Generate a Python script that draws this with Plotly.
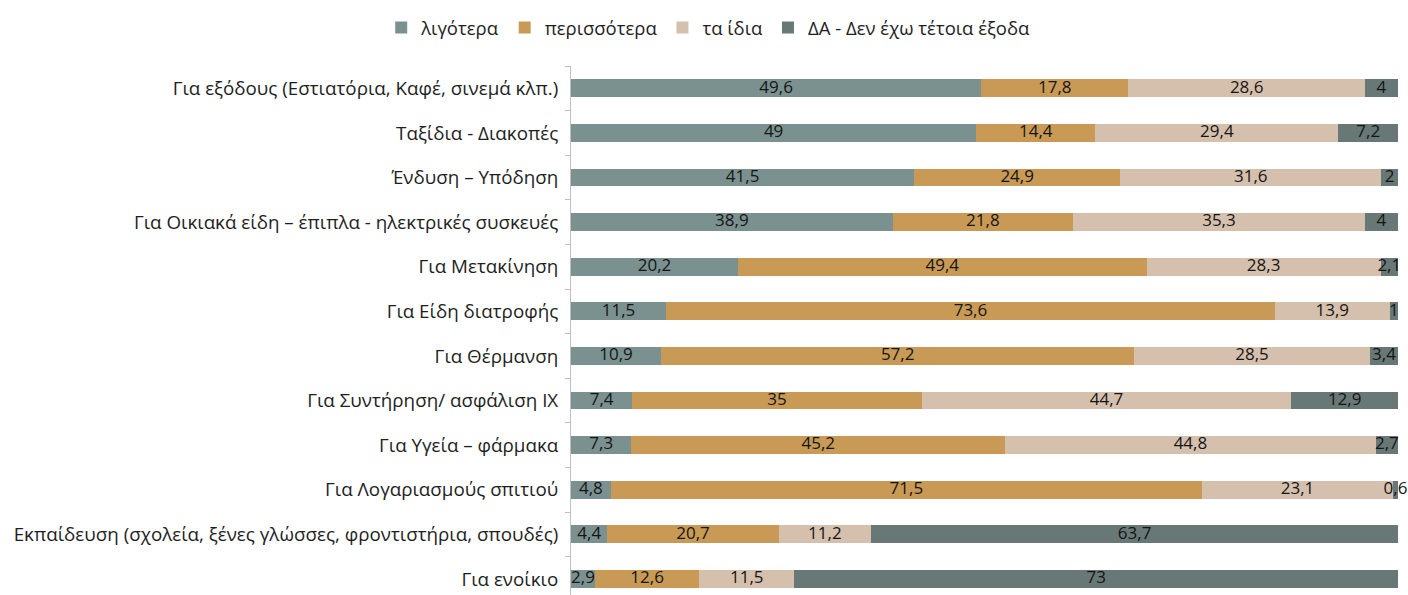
import plotly.graph_objects as go

categories = [
    "Για εξόδους (Εστιατόρια, Καφέ, σινεμά κλπ.)",
    "Ταξίδια - Διακοπές",
    "Ένδυση – Υπόδηση",
    "Για Οικιακά είδη – έπιπλα - ηλεκτρικές συσκευές",
    "Για Μετακίνηση",
    "Για Είδη διατροφής",
    "Για Θέρμανση",
    "Για Συντήρηση/ ασφάλιση ΙΧ",
    "Για Υγεία – φάρμακα",
    "Για Λογαριασμούς σπιτιού",
    "Εκπαίδευση (σχολεία, ξένες γλώσσες, φροντιστήρια, σπουδές)",
    "Για ενοίκιο",
]
less = [49.6, 49, 41.5, 38.9, 20.2, 11.5, 10.9, 7.4, 7.3, 4.8, 4.4, 2.9]
more = [17.8, 14.4, 24.9, 21.8, 49.4, 73.6, 57.2, 35, 45.2, 71.5, 20.7, 12.6]
same = [28.6, 29.4, 31.6, 35.3, 28.3, 13.9, 28.5, 44.7, 44.8, 23.1, 11.2, 11.5]
na = [4, 7.2, 2, 4, 2.1, 1, 3.4, 12.9, 2.7, 0.6, 63.7, 73]

series = [
    ("λιγότερα", less, "#7a9190"),
    ("περισσότερα", more, "#c99a55"),
    ("τα ίδια", same, "#d5c0ae"),
    ("ΔΑ - Δεν έχω τέτοια έξοδα", na, "#677876"),
]

FONT = "Open Sans"
ypos = list(range(len(categories)))

def fmt(v):
    return ("%g" % v).replace(".", ",")

fig = go.Figure()
base = [0.0] * len(categories)
lab_x, lab_y, lab_t = [], [], []
for name, vals, col in series:
    fig.add_trace(go.Bar(
        y=ypos, x=vals, name=name, orientation="h",
        marker=dict(color=col, line=dict(width=0)),
        width=0.4, hoverinfo="x+name",
    ))
    for i, v in enumerate(vals):
        lab_x.append(base[i] + v / 2)
        lab_y.append(i)
        lab_t.append(fmt(v))
        base[i] += v

fig.add_trace(go.Scatter(
    x=lab_x, y=lab_y, text=lab_t, mode="text", textposition="middle center",
    textfont=dict(family=FONT, size=17, color="#151515"),
    showlegend=False, cliponaxis=False, hoverinfo="skip",
))

fig.update_layout(
    barmode="stack",
    width=1408, height=595,
    margin=dict(l=571, r=10, t=66, b=0, autoexpand=False),
    plot_bgcolor="white", paper_bgcolor="white",
    font=dict(family=FONT, size=19, color="#1e1e1e"),
    legend=dict(orientation="h", xref="container", x=0.503, xanchor="center",
                yref="container", y=1 - 28 / 595, yanchor="middle",
                font=dict(family=FONT, size=18.5, color="#1e1e1e"),
                traceorder="normal", itemwidth=30),
    showlegend=True,
)
fig.update_xaxes(range=[0, 100], showgrid=False, showticklabels=False,
                 zeroline=False, showline=False, ticks="", automargin=False)
fig.update_yaxes(range=[11.36, -0.5], tickvals=ypos, ticktext=categories,
                 showgrid=False, zeroline=False, showline=True, automargin=False,
                 linecolor="#bfbfbf", linewidth=1, ticks="", ticklen=0,
                 tickfont=dict(family=FONT, size=18.8, color="#1e1e1e"),
                 ticklabelstandoff=8,
                 minor=dict(tickvals=[i - 0.5 for i in range(13)], ticks="outside",
                            ticklen=5, tickcolor="#bfbfbf", showgrid=False))

fig.write_html("out.html", config={"displayModeBar": False},
               post_script="document.body.style.margin='0';document.body.style.overflow='hidden';")
